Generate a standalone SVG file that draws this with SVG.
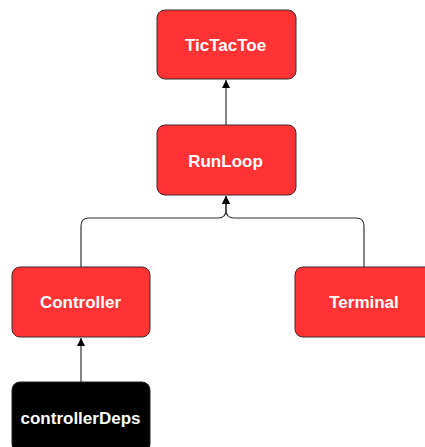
<svg xmlns="http://www.w3.org/2000/svg" width="425" height="447" viewBox="0 0 425 447">
<style>
.box{fill:#ff3333;stroke:#3a2a2a;stroke-width:1}
.dark{fill:#000;stroke:#222;stroke-width:1}
.lbl{font-family:"Liberation Sans",Arial,sans-serif;font-weight:bold;font-size:17px;fill:#fff;text-anchor:middle;dominant-baseline:central}
.edge{fill:none;stroke:#333;stroke-width:1.2}
</style>
<defs>
<marker id="arr" viewBox="0 0 10 10" refX="10" refY="5" markerWidth="8" markerHeight="8" markerUnits="userSpaceOnUse" orient="auto">
<path d="M0,0 L10,5 L0,10 z" fill="#000"/>
</marker>
</defs>
<rect width="425" height="447" fill="#fff"/>
<g id="connectors">
<path class="edge" d="M226,125 V80" marker-end="url(#arr)"/>
<path class="edge" d="M81,267 V226 Q81,218 89,218 H218 Q226,218 226,210 V196" marker-end="url(#arr)"/>
<path class="edge" d="M364,267 V226 Q364,218 356,218 H234 Q226,218 226,210 V196" marker-end="url(#arr)"/>
<path class="edge" d="M81,382 V338" marker-end="url(#arr)"/>
</g>
<g id="TicTacToe">
<rect class="box" x="157" y="10" width="139" height="69" rx="8"/>
<text class="lbl" x="225.5" y="45">TicTacToe</text>
</g>
<g id="RunLoop">
<rect class="box" x="157" y="125" width="139" height="70" rx="8"/>
<text class="lbl" x="225.5" y="161">RunLoop</text>
</g>
<g id="Controller">
<rect class="box" x="12" y="267" width="138" height="70" rx="8"/>
<text class="lbl" x="80.5" y="302">Controller</text>
</g>
<g id="Terminal">
<rect class="box" x="295" y="267" width="138" height="70" rx="8"/>
<text class="lbl" x="364" y="302">Terminal</text>
</g>
<g id="controllerDeps">
<rect class="dark" x="12" y="382" width="138" height="70" rx="8"/>
<text class="lbl" x="80.5" y="418">controllerDeps</text>
</g>
</svg>
